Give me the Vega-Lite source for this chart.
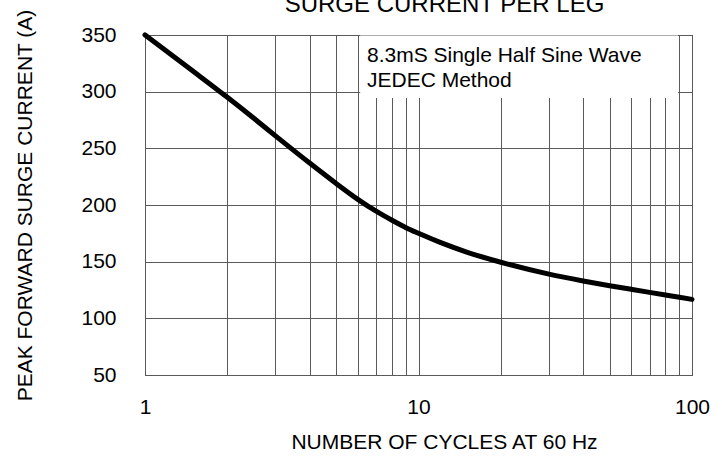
{
  "$schema": "https://vega.github.io/schema/vega-lite/v6.json",
  "autosize": "none",
  "width": 547,
  "height": 340,
  "padding": {"left": 145, "top": 35, "right": 30, "bottom": 82},
  "background": "white",
  "title": {
    "text": "SURGE CURRENT PER LEG",
    "frame": "group",
    "anchor": "middle",
    "baseline": "alphabetic",
    "offset": -30,
    "dx": 26,
    "font": "Liberation Sans",
    "fontSize": 24,
    "fontWeight": "normal",
    "color": "black"
  },
  "config": {
    "view": {"stroke": "black", "strokeWidth": 1},
    "axis": {
      "labelFont": "Liberation Sans",
      "titleFont": "Liberation Sans",
      "labelFontSize": 21,
      "titleFontSize": 21,
      "labelColor": "black",
      "titleColor": "black",
      "titleFontWeight": "normal",
      "gridColor": "#5a5a5a",
      "gridOpacity": 1,
      "gridWidth": 1,
      "domain": false,
      "ticks": false
    }
  },
  "datasets": {
    "curve": [
      {"cycles": 1, "current": 350},
      {"cycles": 1.5, "current": 318},
      {"cycles": 2, "current": 295},
      {"cycles": 2.5, "current": 276.5},
      {"cycles": 3, "current": 261},
      {"cycles": 4, "current": 237},
      {"cycles": 5, "current": 219},
      {"cycles": 6, "current": 205},
      {"cycles": 7, "current": 194.5},
      {"cycles": 8, "current": 186.5},
      {"cycles": 9, "current": 180},
      {"cycles": 10, "current": 175},
      {"cycles": 12, "current": 167},
      {"cycles": 15, "current": 158.5},
      {"cycles": 20, "current": 149.5},
      {"cycles": 30, "current": 139},
      {"cycles": 40, "current": 133},
      {"cycles": 50, "current": 128.8},
      {"cycles": 60, "current": 125.6},
      {"cycles": 70, "current": 122.9},
      {"cycles": 80, "current": 120.6},
      {"cycles": 90, "current": 118.6},
      {"cycles": 100, "current": 116.7}
    ],
    "note": [
      {"label": "8.3mS Single Half Sine Wave\nJEDEC Method"}
    ]
  },
  "layer": [
    {
      "data": {"name": "curve"},
      "mark": {"type": "line", "color": "black", "strokeWidth": 5, "interpolate": "monotone", "strokeCap": "round"},
      "encoding": {
        "x": {
          "field": "cycles",
          "type": "quantitative",
          "scale": {"type": "log", "domain": [1, 100], "nice": false},
          "axis": {
            "values": [1, 2, 3, 4, 5, 6, 7, 8, 9, 10, 20, 30, 40, 50, 60, 70, 80, 90, 100],
            "labelExpr": "(datum.value == 1 || datum.value == 10 || datum.value == 100) ? format(datum.value, 'd') : ''",
            "labelPadding": 21,
            "labelAlign": "center",
            "labelOverlap": false,
            "labelFlush": false,
            "title": "NUMBER OF CYCLES AT 60 Hz",
            "titleBaseline": "alphabetic",
            "titleAlign": "center",
            "titleX": 299,
            "titleY": 73
          }
        },
        "y": {
          "field": "current",
          "type": "quantitative",
          "scale": {"domain": [50, 350], "nice": false, "zero": false},
          "axis": {
            "values": [50, 100, 150, 200, 250, 300, 350],
            "labelPadding": 29,
            "labelFlush": false,
            "labelOverlap": false,
            "title": "PEAK FORWARD SURGE  CURRENT (A)",
            "titleBaseline": "alphabetic",
            "titleX": -114
          }
        }
      }
    },
    {
      "data": {"name": "note"},
      "mark": {"type": "rect", "fill": "white", "stroke": null},
      "encoding": {
        "x": {"datum": 6.12, "type": "quantitative"},
        "x2": {"datum": 88.9},
        "y": {"datum": 349.5, "type": "quantitative"},
        "y2": {"datum": 294.4}
      }
    },
    {
      "data": {"name": "note"},
      "mark": {"type": "text", "align": "left", "baseline": "alphabetic", "font": "Liberation Sans", "fontSize": 21, "color": "black", "lineBreak": "\n", "lineHeight": 25},
      "encoding": {
        "x": {"datum": 6.48, "type": "quantitative"},
        "y": {"datum": 326.4, "type": "quantitative"},
        "text": {"field": "label"}
      }
    }
  ]
}
